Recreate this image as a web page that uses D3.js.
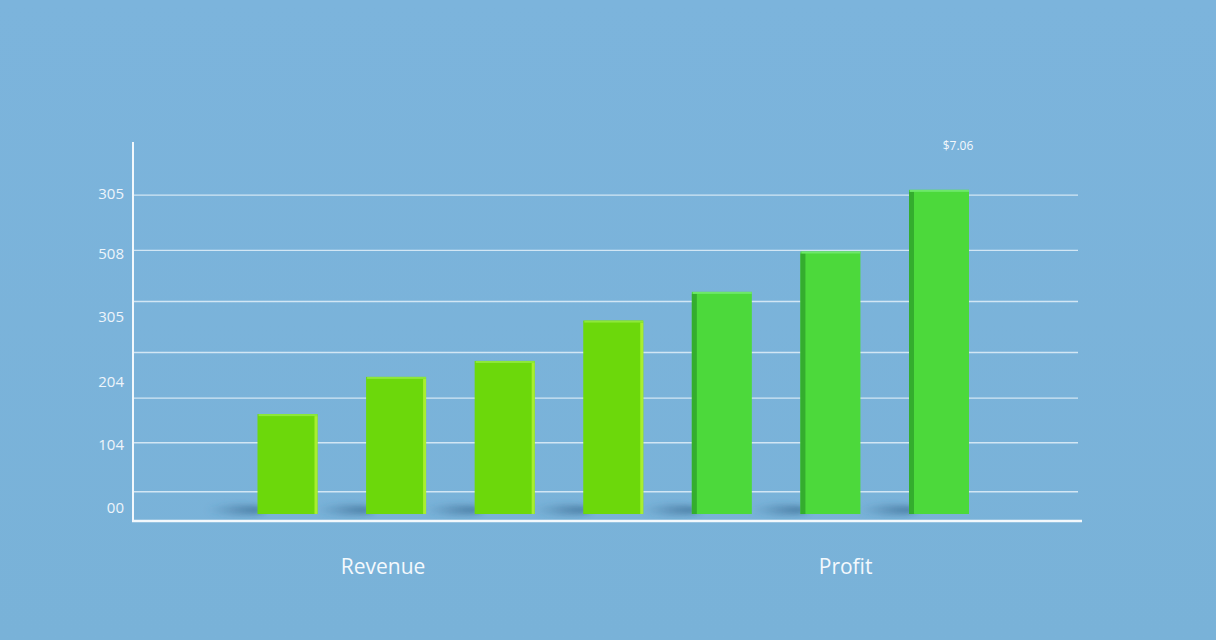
<!DOCTYPE html>
<html lang="en">
<head>
    <meta charset="UTF-8">
    <title>Revenue and Profit</title>
    <script src="https://cdn.jsdelivr.net/npm/d3@7"></script>
    <style>
        html, body { margin: 0; padding: 0; background: #7ab3d9; }
        svg { display: block; }
        .tick-label { font-family: "Open Sans", sans-serif; font-size: 15px; fill: #eef5fb; text-anchor: end; }
        .group-label { font-family: "Open Sans", sans-serif; font-size: 21px; fill: #f4f9fd; text-anchor: middle; }
        .note { font-family: "Open Sans", sans-serif; font-size: 12px; fill: #f4f9fd; text-anchor: middle; }
    </style>
</head>
<body>
<svg></svg>
<script>
    // data (value units of the y scale)
    const bars = [94, 129, 144, 182, 209, 247, 305];
    const barKind = ["revenue", "revenue", "revenue", "revenue", "profit", "profit", "profit"];
    const gridValues = [21, 67, 109, 152, 200, 248, 300];
    const tickLabels = ["00", "104", "204", "305", "508", "305"];
    const tickValues = [7, 66, 125, 186, 246, 302];
    const groupLabels = ["Revenue", "Profit"];
    const groupPos = [0.88, 5.14];   // position along the bar index
    const noteText = "$7.06";

    const width = 1216, height = 640;
    const svg = d3.select("svg").attr("width", width).attr("height", height);

    const x = d3.scaleLinear().domain([0, bars.length - 1]).range([287.5, 939]);
    const y = d3.scaleLinear().domain([0, 350]).range([514, 142]);
    const barW = 60;

    const defs = svg.append("defs");
    defs.append("filter").attr("id", "blur")
        .attr("x", "-50%").attr("y", "-200%").attr("width", "200%").attr("height", "500%")
        .append("feGaussianBlur").attr("stdDeviation", 3);

    const bg = defs.append("linearGradient").attr("id", "bg").attr("x1", 0).attr("y1", 0).attr("x2", 0).attr("y2", 1);
    bg.append("stop").attr("offset", "0%").attr("stop-color", "#7cb4dc");
    bg.append("stop").attr("offset", "100%").attr("stop-color", "#79b2d8");
    svg.append("rect").attr("width", width).attr("height", height).attr("fill", "url(#bg)");

    // shadow wedge: darkest against the bar, fading out to the left
    const sh = defs.append("linearGradient").attr("id", "shade").attr("x1", 0).attr("y1", 0).attr("x2", 1).attr("y2", 0);
    sh.append("stop").attr("offset", "0%").attr("stop-color", "#3a6d96").attr("stop-opacity", 0);
    sh.append("stop").attr("offset", "100%").attr("stop-color", "#2c5a80").attr("stop-opacity", 0.75);

    // gridlines
    svg.selectAll(".grid")
        .data(gridValues)
        .enter().append("line")
        .attr("x1", 134).attr("x2", 1078)
        .attr("y1", d => y(d)).attr("y2", d => y(d))
        .style("stroke", "#dcecf7").style("stroke-width", 1.4).style("opacity", 0.9);

    // y tick labels (as printed, they don't sit on the lines)
    svg.selectAll(".tick-label")
        .data(tickLabels)
        .enter().append("text")
        .attr("class", "tick-label")
        .attr("x", 124)
        .attr("y", (d, i) => y(tickValues[i]) + 6)
        .text(d => d);

    // soft shadows to the left of each bar
    svg.selectAll(".shadow")
        .data(bars)
        .enter().append("ellipse")
        .attr("cx", (d, i) => x(i) - barW / 2 - 22)
        .attr("cy", y(0) - 4)
        .attr("rx", 30).attr("ry", 5)
        .attr("fill", "url(#shade)")
        .attr("filter", "url(#blur)");

    const face = { revenue: "#6cd80b", profit: "#4cd93b" };
    const g = svg.selectAll(".bar").data(bars).enter().append("g");

    g.append("rect")
        .attr("x", (d, i) => x(i) - barW / 2)
        .attr("y", d => y(d))
        .attr("width", barW)
        .attr("height", d => y(0) - y(d))
        .attr("fill", (d, i) => face[barKind[i]]);

    // side faces: light right edge on revenue bars, dark left edge on profit bars
    g.append("rect")
        .attr("x", (d, i) => barKind[i] === "revenue" ? x(i) + barW / 2 - 3 : x(i) - barW / 2)
        .attr("y", d => y(d) + 2)
        .attr("width", (d, i) => barKind[i] === "revenue" ? 3 : 5)
        .attr("height", d => y(0) - y(d) - 2)
        .attr("fill", (d, i) => barKind[i] === "revenue" ? "#a8ee30" : "#34ad2e");

    // top highlight
    g.append("rect")
        .attr("x", (d, i) => x(i) - barW / 2 + 1)
        .attr("y", d => y(d))
        .attr("width", barW - 1)
        .attr("height", 2)
        .attr("fill", (d, i) => barKind[i] === "revenue" ? "#8ee83a" : "#6ee86a");

    // axes
    svg.append("line").attr("x1", 133).attr("x2", 133).attr("y1", 142).attr("y2", 521)
        .style("stroke", "#f2f8fc").style("stroke-width", 2);
    svg.append("line").attr("x1", 132).attr("x2", 1082).attr("y1", 521).attr("y2", 521)
        .style("stroke", "#f2f8fc").style("stroke-width", 2.5);

    svg.selectAll(".group-label")
        .data(groupLabels)
        .enter().append("text")
        .attr("class", "group-label")
        .attr("x", (d, i) => x(groupPos[i]))
        .attr("y", 574)
        .text(d => d);

    svg.append("text").attr("class", "note")
        .attr("x", x(bars.length - 1) + 19)
        .attr("y", 150)
        .text(noteText);
</script>
</body>
</html>
